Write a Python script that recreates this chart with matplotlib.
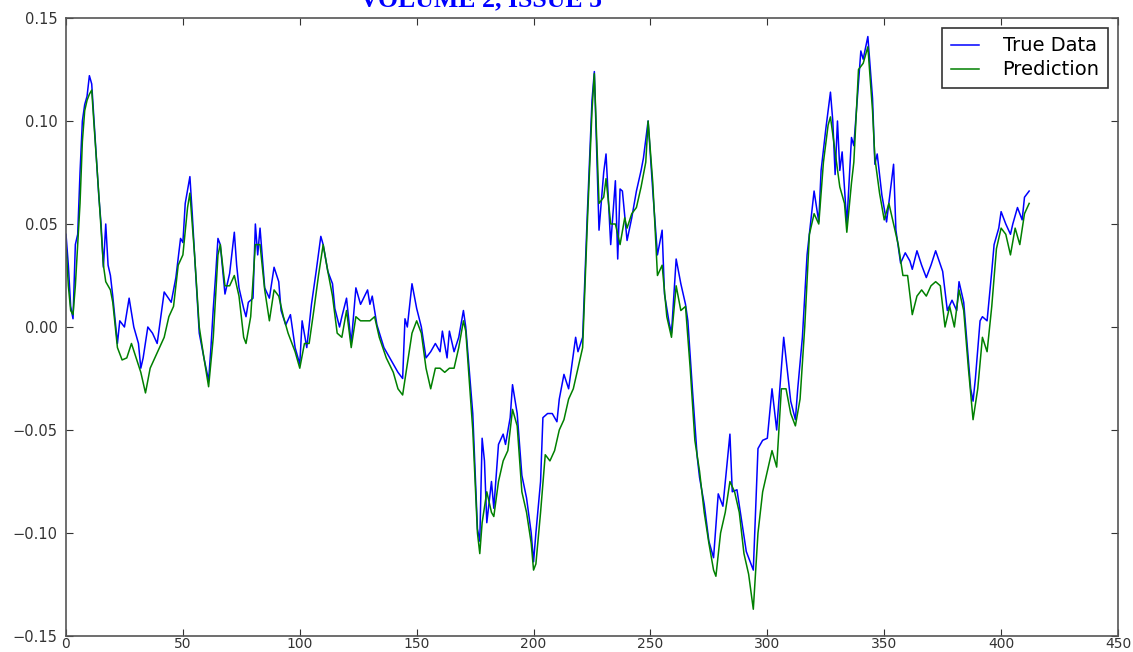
import matplotlib
matplotlib.use("Agg")
import matplotlib.pyplot as plt

# ---- data ----
true_x = [0, 1, 2, 3, 4, 5, 6, 7, 8, 9, 10, 11, 12, 14, 15, 16, 17, 18, 19, 20, 22, 23, 25, 27, 29, 31, 32, 33,
          35, 37, 39, 42, 45, 47, 49, 50, 51, 53, 54, 55, 57, 59, 61, 62, 63, 64, 65, 66, 68, 70, 72, 73, 74, 76,
          77, 78, 80, 81, 82, 83, 85, 87, 89, 91, 92, 94, 96, 98, 100, 101, 103, 105, 107, 109, 110, 112, 114,
          115, 117, 118, 120, 122, 124, 126, 129, 130, 131, 133, 136, 140, 142, 144, 145, 146, 148, 150, 152, 154,
          156, 158, 160, 161, 163, 164, 166, 168, 170, 171, 174, 176, 177, 178, 179, 180, 182, 183, 185, 187, 188,
          190, 191, 193, 195, 197, 199, 200, 201, 203, 204, 206, 208, 210, 211, 213, 215, 218, 219, 221, 223, 225,
          226, 228, 230, 231, 233, 235, 236, 237, 238, 240, 242, 244, 246, 247, 249, 251, 253, 255, 256, 258, 259,
          261, 263, 265, 266, 268, 270, 271, 273, 275, 277, 279, 281, 284, 285, 287, 289, 291, 293, 294, 296, 298,
          300, 302, 304, 307, 310, 312, 313, 315, 317, 320, 322, 323, 325, 327, 328, 329, 330, 331, 332, 334, 336,
          337, 340, 341, 343, 345, 346, 347, 349, 351, 354, 355, 357, 359, 361, 362, 364, 366, 368, 370, 372, 375,
          377, 379, 381, 382, 384, 387, 388, 389, 391, 392, 394, 396, 397, 399, 400, 402, 404, 405, 407, 409, 410,
          412]
true_y = [0.045, 0.030, 0.010, 0.004, 0.040, 0.045, 0.075, 0.100, 0.108, 0.112, 0.122, 0.118, 0.100, 0.064,
          0.050, 0.029, 0.050, 0.030, 0.025, 0.015, -0.008, 0.003, 0.000, 0.014, 0.000, -0.008, -0.020, -0.015,
          0.000, -0.003, -0.008, 0.017, 0.012, 0.024, 0.043, 0.041, 0.060, 0.073, 0.055, 0.035, -0.003, -0.015,
          -0.026, -0.010, 0.009, 0.025, 0.043, 0.040, 0.016, 0.026, 0.046, 0.030, 0.019, 0.009, 0.005, 0.012,
          0.014, 0.050, 0.035, 0.048, 0.019, 0.014, 0.029, 0.022, 0.008, 0.001, 0.006, -0.010, -0.018, 0.003,
          -0.010, 0.011, 0.027, 0.044, 0.040, 0.027, 0.021, 0.009, 0.000, 0.005, 0.014, -0.008, 0.019, 0.011,
          0.018, 0.011, 0.015, 0.001, -0.010, -0.018, -0.022, -0.025, 0.004, 0.000, 0.021, 0.009, 0.000, -0.015,
          -0.012, -0.008, -0.012, -0.002, -0.015, -0.002, -0.012, -0.005, 0.008, 0.000, -0.042, -0.098, -0.104,
          -0.054, -0.065, -0.095, -0.075, -0.088, -0.057, -0.052, -0.057, -0.044, -0.028, -0.042, -0.072, -0.083,
          -0.100, -0.114, -0.100, -0.075, -0.044, -0.042, -0.042, -0.046, -0.035, -0.023, -0.030, -0.005, -0.012,
          -0.005, 0.055, 0.110, 0.124, 0.047, 0.075, 0.084, 0.040, 0.071, 0.033, 0.067, 0.066, 0.042, 0.053, 0.066,
          0.076, 0.082, 0.100, 0.066, 0.035, 0.047, 0.016, 0.002, -0.003, 0.033, 0.021, 0.011, 0.003, -0.031,
          -0.063, -0.073, -0.086, -0.104, -0.112, -0.081, -0.087, -0.052, -0.080, -0.079, -0.094, -0.109, -0.115,
          -0.118, -0.059, -0.055, -0.054, -0.030, -0.050, -0.005, -0.036, -0.045, -0.030, -0.005, 0.035, 0.066,
          0.051, 0.076, 0.096, 0.114, 0.100, 0.074, 0.100, 0.076, 0.085, 0.050, 0.092, 0.088, 0.134, 0.130, 0.141,
          0.111, 0.079, 0.084, 0.064, 0.051, 0.079, 0.047, 0.031, 0.036, 0.032, 0.028, 0.037, 0.030, 0.024, 0.030,
          0.037, 0.027, 0.008, 0.013, 0.008, 0.022, 0.012, -0.030, -0.036, -0.025, 0.003, 0.005, 0.003, 0.027,
          0.040, 0.048, 0.056, 0.050, 0.045, 0.050, 0.058, 0.052, 0.063, 0.066]

pred_x = [0, 1, 2, 3, 4, 5, 6, 7, 8, 9, 10, 11, 12, 14, 16, 17, 18, 19, 20, 22, 24, 26, 28, 30, 32, 34, 36, 38,
          40, 42, 44, 46, 48, 50, 52, 53, 55, 57, 59, 61, 63, 65, 66, 68, 70, 72, 74, 76, 77, 79, 81, 83, 85, 87,
          89, 91, 93, 95, 98, 100, 102, 104, 106, 108, 110, 112, 114, 116, 118, 120, 122, 124, 126, 128, 130, 132,
          134, 137, 140, 142, 144, 146, 148, 150, 152, 154, 156, 158, 160, 162, 164, 166, 168, 170, 171, 174, 176,
          177, 178, 180, 182, 183, 185, 187, 189, 191, 193, 195, 197, 199, 200, 201, 203, 205, 207, 209, 211, 213,
          215, 217, 219, 221, 223, 225, 226, 228, 230, 231, 233, 235, 237, 239, 240, 242, 244, 246, 248, 249, 251,
          253, 255, 257, 259, 261, 263, 265, 267, 269, 271, 273, 275, 277, 278, 280, 282, 284, 286, 288, 290, 292,
          294, 296, 298, 300, 302, 304, 306, 308, 310, 312, 314, 316, 318, 320, 322, 324, 326, 327, 329, 331, 333,
          334, 336, 337, 339, 341, 343, 345, 346, 348, 350, 352, 354, 356, 358, 360, 362, 364, 366, 368, 370, 372,
          374, 376, 378, 380, 382, 384, 386, 388, 390, 392, 394, 396, 398, 400, 402, 404, 406, 408, 410, 412]
pred_y = [0.040, 0.020, 0.008, 0.006, 0.020, 0.040, 0.060, 0.090, 0.105, 0.110, 0.113, 0.115, 0.098, 0.065, 0.030,
          0.022, 0.020, 0.018, 0.012, -0.010, -0.016, -0.015, -0.008, -0.015, -0.022, -0.032, -0.020, -0.015,
          -0.010, -0.005, 0.005, 0.010, 0.030, 0.035, 0.058, 0.065, 0.035, 0.000, -0.015, -0.029, -0.005, 0.035,
          0.040, 0.020, 0.020, 0.025, 0.015, -0.005, -0.008, 0.005, 0.040, 0.040, 0.018, 0.003, 0.018, 0.015,
          0.005, -0.003, -0.012, -0.020, -0.008, -0.008, 0.008, 0.025, 0.040, 0.027, 0.015, -0.003, -0.005, 0.008,
          -0.010, 0.005, 0.003, 0.003, 0.003, 0.005, -0.005, -0.015, -0.022, -0.030, -0.033, -0.018, -0.003, 0.003,
          -0.003, -0.020, -0.030, -0.020, -0.020, -0.022, -0.020, -0.020, -0.010, 0.003, -0.002, -0.050, -0.100,
          -0.110, -0.095, -0.080, -0.090, -0.092, -0.075, -0.065, -0.060, -0.040, -0.048, -0.080, -0.090, -0.105,
          -0.118, -0.115, -0.090, -0.062, -0.065, -0.060, -0.050, -0.045, -0.035, -0.030, -0.020, -0.010, 0.050,
          0.105, 0.123, 0.060, 0.063, 0.072, 0.050, 0.050, 0.040, 0.053, 0.048, 0.055, 0.058, 0.068, 0.080, 0.100,
          0.070, 0.025, 0.030, 0.005, -0.005, 0.020, 0.008, 0.010, -0.020, -0.055, -0.070, -0.090, -0.105, -0.118,
          -0.121, -0.100, -0.090, -0.075, -0.080, -0.090, -0.110, -0.120, -0.137, -0.100, -0.080, -0.070, -0.060,
          -0.068, -0.030, -0.030, -0.042, -0.048, -0.035, 0.000, 0.045, 0.055, 0.050, 0.080, 0.098, 0.102, 0.085,
          0.068, 0.060, 0.046, 0.070, 0.080, 0.125, 0.128, 0.136, 0.105, 0.082, 0.065, 0.052, 0.060, 0.050, 0.040,
          0.025, 0.025, 0.006, 0.015, 0.018, 0.015, 0.020, 0.022, 0.020, 0.000, 0.010, 0.000, 0.018, 0.008, -0.020,
          -0.045, -0.030, -0.005, -0.012, 0.010, 0.038, 0.048, 0.045, 0.035, 0.048, 0.040, 0.055, 0.060]

x_ticks = [0, 50, 100, 150, 200, 250, 300, 350, 400, 450]
y_ticks = [-0.15, -0.10, -0.05, 0.00, 0.05, 0.10, 0.15]
y_tick_labels = ["\u22120.15", "\u22120.10", "\u22120.05", "0.00", "0.05", "0.10", "0.15"]
series_names = ["True Data", "Prediction"]
header = "VOLUME 2, ISSUE 5"

fig = plt.figure(figsize=(11.33, 6.52), dpi=100)
ax = fig.add_axes([66 / 1133, 16 / 652, (1118 - 66) / 1133, (636 - 18) / 652])

ax.plot(true_x, true_y, color="#0000ff", lw=1.1, label=series_names[0])
ax.plot(pred_x, pred_y, color="#008000", lw=1.1, label=series_names[1])

ax.set_xlim(0, 450)
ax.set_ylim(-0.15, 0.15)
ax.set_xticks(x_ticks)
ax.set_xticklabels([str(t) for t in x_ticks])
ax.set_yticks(y_ticks)
ax.set_yticklabels(y_tick_labels)
ax.tick_params(direction="in", top=True, right=True, length=5, width=0.8,
               labelsize=10.5, colors="#333333", pad=6)
ax.tick_params(axis="x", pad=1.0, labelsize=10)
for sp in ax.spines.values():
    sp.set_color("#555555")
    sp.set_linewidth(1.2)

leg = ax.legend(loc="upper right", fontsize=14, fancybox=False, framealpha=1,
                edgecolor="#333333", handlelength=1.45, borderaxespad=0.5,
                borderpad=0.45, labelspacing=0.25, handletextpad=1.2)
leg.get_frame().set_linewidth(1.2)

fig.text(360 / 1133, 1 - 6 / 652, header, ha="left", va="baseline",
         fontsize=18.5, fontweight="bold", color="#0000ff", family="Liberation Serif")

fig.savefig("out.png", dpi=100)
